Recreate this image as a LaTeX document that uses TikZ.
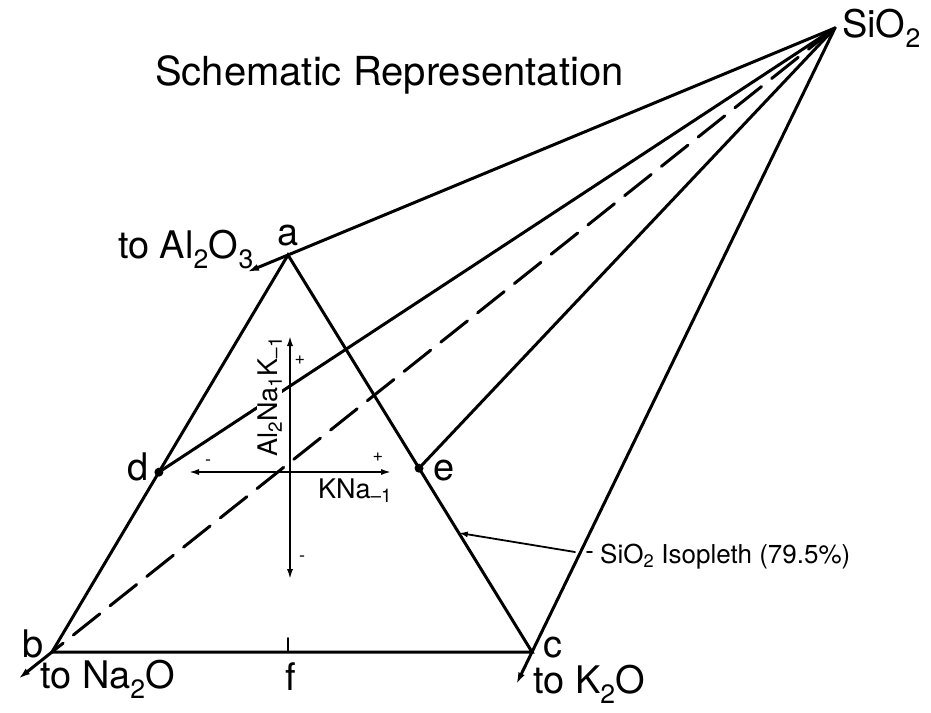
\documentclass[tikz,border=0pt]{standalone}
\usepackage{fontspec}
\setmainfont{TeX Gyre Heros}
\usepackage{tikz}
\usetikzlibrary{arrows.meta,positioning,calc}

\begin{document}
\begin{tikzpicture}[x=1pt,y=-1pt,>={Latex[length=12pt,width=7pt]},line cap=round]
\tikzstyle{edge}=[line width=3pt]
\tikzstyle{axis}=[line width=2.2pt,{Latex[length=11pt,width=6pt]}-{Latex[length=11pt,width=6pt]}]
\tikzstyle{lbl}=[inner sep=0pt,anchor=base west,font=\fontsize{38}{40}\selectfont]
\tikzstyle{small}=[inner sep=0pt,anchor=base west,font=\fontsize{27}{30}\selectfont]
\tikzstyle{sign}=[inner sep=0pt,font=\fontsize{18}{20}\selectfont]
\tikzstyle{dot}=[circle,fill,inner sep=0pt,minimum size=9pt]
\useasboundingbox (0,0) rectangle (931,712);
\coordinate (si) at (835,28);
\coordinate (a) at (288,255);
\coordinate (b) at (52,652);
\coordinate (c) at (532,652);
\coordinate (f) at (288,652);
\node[dot] (d) at ($(a)!0.547!(b)$) {};
\node[dot] (e) at ($(a)!0.537!(c)$) {};
\coordinate (toal) at ($(si)!1.075!(a)$);
\coordinate (tona) at ($(si)!1.043!(b)$);
\coordinate (tok) at ($(si)!1.052!(c)$);
\coordinate (iso) at ($(a)!0.70!(c)$);
\coordinate (isoend) at (575,552);
\coordinate (vtop) at (290,335);
\coordinate (vbot) at (290,580);
\coordinate (hl) at (188,472);
\coordinate (hr) at (392,472);
\draw[edge] (a) -- (b) -- (c) -- cycle;
\draw[edge,->] (si) -- (toal);
\draw[edge] (si) -- (d);
\draw[edge] (si) -- (e);
\draw[edge,->] (si) -- (tok);
\draw[edge,dash pattern=on 34pt off 13pt] (si) -- (b);
\draw[edge,->] (b) -- (tona);
\draw[line width=2pt] (f) -- ++(0,-14);
\node[small,rotate=90,fill=white] (alk) at (277,457) {Al\textsubscript{2}Na\textsubscript{1}K\textsubscript{\textendash 1}};
\draw[axis] (vtop) -- (vbot);
\draw[axis] (hl) -- (hr);
\node[small] (kna) at (318,498) {KNa\textsubscript{\textendash 1}};
\node[sign] (vp) at (300,360) {+};
\node[sign] (hp) at (378,457) {+};
\node[sign] (hm) at (208,463) {-};
\node[sign] (vm) at (302,559) {-};
\node[lbl,font=\fontsize{40}{44}\selectfont] (title) at (155,85) {Schematic Representation};
\node[lbl] (lsi) at (842,37) {SiO\textsubscript{2}};
\node[lbl] (la) at (277,245) {a};
\node[lbl,anchor=base east] (lal) at (254,258) {to Al\textsubscript{2}O\textsubscript{3}};
\node[lbl] (ld) at (127,480) {d};
\node[lbl] (le) at (433,480) {e};
\node[lbl] (lb) at (22,657) {b};
\node[lbl] (lc) at (543,657) {c};
\node[lbl] (lna) at (40,688) {to Na\textsubscript{2}O};
\node[lbl] (lf) at (285,690) {f};
\node[lbl] (lk) at (533,693) {to K\textsubscript{2}O};
\node[small,font=\fontsize{26}{28}\selectfont] (liso) at (600,563) {SiO\textsubscript{2} Isopleth (79.5\%)};
\draw[line width=1.8pt,{Latex[length=9pt,width=6pt]}-] (iso) -- (isoend);
\draw[line width=1.8pt] ($(liso.base west)+(-13,-11)$) -- ($(liso.base west)+(-8,-11)$);
\end{tikzpicture}
\end{document}
